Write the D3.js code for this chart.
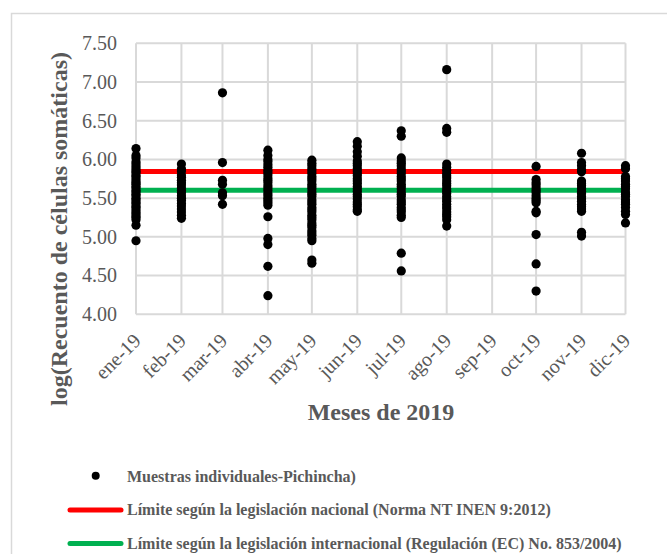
<!DOCTYPE html>
<html>
<head>
<meta charset="utf-8">
<script src="https://cdn.jsdelivr.net/npm/d3@7"></script>
<style>
  body { margin: 0; background: #fff; }
  svg text { font-family: "Liberation Serif", "Times New Roman", serif !important; }
</style>
</head>
<body>
<div id="chart"></div>
<script>
var width = 667,
    height = 554;

var monthLabels = ["ene-19", "feb-19", "mar-19", "abr-19", "may-19", "jun-19",
                   "jul-19", "ago-19", "sep-19", "oct-19", "nov-19", "dic-19"];

var ene = [6.14, 6.05, 6.02, 5.97, 5.94, 5.91, 5.88, 5.85, 5.83, 5.80, 5.78, 5.75, 5.72, 5.70, 5.68,
           5.65, 5.63, 5.60, 5.58, 5.55, 5.53, 5.50, 5.48, 5.45, 5.43, 5.40, 5.38, 5.35, 5.32,
           5.30, 5.27, 5.25, 5.22, 5.15, 4.95];
var feb = [5.94, 5.88, 5.85, 5.80, 5.77, 5.73, 5.70, 5.67, 5.63, 5.60, 5.57, 5.53, 5.50, 5.47,
           5.43, 5.40, 5.36, 5.32, 5.28, 5.24];
var mar = [6.86, 5.96, 5.73, 5.68, 5.57, 5.53, 5.42];
var abr = [6.12, 6.05, 6.00, 5.97, 5.93, 5.90, 5.86, 5.83, 5.80, 5.76, 5.73, 5.70, 5.66, 5.63,
           5.60, 5.56, 5.53, 5.50, 5.47, 5.44, 5.41, 5.26, 4.98, 4.90, 4.62, 4.24];
var may = [5.99, 5.95, 5.92, 5.88, 5.85, 5.82, 5.78, 5.75, 5.72, 5.68, 5.65, 5.62, 5.58, 5.55,
           5.52, 5.48, 5.45, 5.42, 5.38, 5.35, 5.32, 5.28, 5.25, 5.22, 5.18, 5.15, 5.12, 5.08,
           5.05, 5.02, 4.98, 4.95, 4.70, 4.66];
var jun = [6.23, 6.17, 6.10, 6.04, 5.98, 5.95, 5.92, 5.88, 5.85, 5.82, 5.79, 5.75, 5.72, 5.69,
           5.65, 5.62, 5.59, 5.55, 5.52, 5.49, 5.45, 5.42, 5.39, 5.35, 5.33];
var jul = [6.37, 6.30, 6.02, 5.98, 5.95, 5.92, 5.88, 5.85, 5.82, 5.78, 5.75, 5.72, 5.68, 5.65,
           5.62, 5.58, 5.55, 5.52, 5.48, 5.45, 5.42, 5.38, 5.35, 5.32, 5.28, 5.25, 4.79, 4.56];
var ago = [7.16, 6.40, 6.35, 5.94, 5.90, 5.86, 5.82, 5.79, 5.76, 5.72, 5.69, 5.66, 5.62, 5.59,
           5.56, 5.52, 5.49, 5.46, 5.42, 5.39, 5.36, 5.32, 5.29, 5.26, 5.22, 5.14];
var sep = [];
var oct = [5.91, 5.74, 5.70, 5.67, 5.63, 5.60, 5.57, 5.53, 5.50, 5.47, 5.44, 5.33, 5.31, 5.03,
           4.65, 4.30];
var nov = [6.08, 5.96, 5.92, 5.87, 5.84, 5.72, 5.69, 5.66, 5.62, 5.59, 5.56, 5.52, 5.49, 5.46,
           5.42, 5.39, 5.36, 5.33, 5.06, 5.01];
var dic = [5.92, 5.88, 5.78, 5.75, 5.72, 5.68, 5.65, 5.62, 5.58, 5.55, 5.52, 5.48, 5.45, 5.42,
           5.38, 5.33, 5.29, 5.18];

var samplesByMonth = [ene, feb, mar, abr, may, jun, jul, ago, sep, oct, nov, dic];

var yTicks = [4.00, 4.50, 5.00, 5.50, 6.00, 6.50, 7.00, 7.50];

var limitNacional = 5.845,      // log10(700000)
    limitInternacional = 5.602; // log10(400000)

var legendLabels = ["Muestras individuales-Pichincha)",
                    "Límite según la legislación nacional (Norma NT INEN 9:2012)",
                    "Límite según la legislación internacional (Regulación (EC) No. 853/2004)"];

var textColor = "#595959",
    gridColor = "#d9d9d9";

var months = monthLabels.map(function(d, i) { return new Date(2019, i, 1); });

var points = [];
samplesByMonth.forEach(function(vals, i) {
  vals.forEach(function(v) { points.push({date: months[i], value: v}); });
});

var x = d3.scaleTime()
    .domain([months[0], months[11]])
    .range([136, 625.5]);

var y = d3.scaleLinear()
    .domain([4, 7.5])
    .range([314.3, 43.3]);

var svg = d3.select("#chart").append("svg")
    .attr("width", width)
    .attr("height", height);

svg.append("rect")
    .attr("width", width)
    .attr("height", height)
    .attr("fill", "#fff");

// outer chart border
svg.append("rect")
    .attr("x", 11.5)
    .attr("y", 13.5)
    .attr("width", 700)
    .attr("height", 600)
    .attr("fill", "none")
    .attr("stroke", gridColor)
    .attr("stroke-width", 1.5);

var grid = svg.append("g");

grid.selectAll("line.h")
    .data(yTicks)
  .enter().append("line")
    .attr("class", "h")
    .attr("x1", x.range()[0])
    .attr("x2", x.range()[1])
    .attr("y1", function(d) { return y(d); })
    .attr("y2", function(d) { return y(d); })
    .attr("stroke", gridColor)
    .attr("stroke-width", 2);

grid.selectAll("line.v")
    .data(months)
  .enter().append("line")
    .attr("class", "v")
    .attr("x1", function(d) { return x(d); })
    .attr("x2", function(d) { return x(d); })
    .attr("y1", y(7.5))
    .attr("y2", y(4))
    .attr("stroke", gridColor)
    .attr("stroke-width", 2);

// y axis labels
var yAxis = svg.append("g")
    .attr("transform", "translate(" + x.range()[0] + ",0)")
    .attr("font-family", null)
    .call(d3.axisLeft(y).tickValues(yTicks).tickFormat(d3.format(".2f")).tickSize(0).tickPadding(19));
yAxis.attr("font-family", "Liberation Serif");
yAxis.select(".domain").remove();
yAxis.selectAll("text")
    .style("font-family", "'Liberation Serif', serif")
    .attr("font-size", 20)
    .attr("fill", textColor);

// x axis labels, rotated
svg.append("g").selectAll("text")
    .data(months)
  .enter().append("text")
    .attr("transform", function(d) { return "translate(" + (x(d) + 6) + ",342)rotate(-45)"; })
    .attr("text-anchor", "end")
    .style("font-family", "'Liberation Serif', serif")
    .attr("font-size", 20)
    .attr("fill", textColor)
    .text(function(d, i) { return monthLabels[i]; });

// limit lines
svg.append("line")
    .attr("x1", x.range()[0])
    .attr("x2", x.range()[1])
    .attr("y1", y(limitNacional))
    .attr("y2", y(limitNacional))
    .attr("stroke", "#ff0000")
    .attr("stroke-width", 5);

svg.append("line")
    .attr("x1", x.range()[0])
    .attr("x2", x.range()[1])
    .attr("y1", y(limitInternacional))
    .attr("y2", y(limitInternacional))
    .attr("stroke", "#00b050")
    .attr("stroke-width", 5);

svg.append("g").selectAll("circle")
    .data(points)
  .enter().append("circle")
    .attr("cx", function(d) { return x(d.date); })
    .attr("cy", function(d) { return y(d.value); })
    .attr("r", 4.6)
    .attr("fill", "#000");

// axis titles
svg.append("text")
    .attr("transform", "translate(67,229)rotate(-90)")
    .attr("text-anchor", "middle")
    .attr("font-size", 24)
    .attr("font-weight", "bold")
    .attr("fill", textColor)
    .text("log(Recuento de células somáticas)");

svg.append("text")
    .attr("x", 381)
    .attr("y", 420)
    .attr("text-anchor", "middle")
    .attr("font-size", 24)
    .attr("font-weight", "bold")
    .attr("fill", textColor)
    .text("Meses de 2019");

// legend
var legend = svg.append("g");

legend.append("circle")
    .attr("cx", 95.7)
    .attr("cy", 475.7)
    .attr("r", 4)
    .attr("fill", "#000");

legend.append("line")
    .attr("x1", 70).attr("x2", 121)
    .attr("y1", 510).attr("y2", 510)
    .attr("stroke", "#ff0000")
    .attr("stroke-width", 5)
    .attr("stroke-linecap", "round");

legend.append("line")
    .attr("x1", 70).attr("x2", 121)
    .attr("y1", 543.5).attr("y2", 543.5)
    .attr("stroke", "#00b050")
    .attr("stroke-width", 5)
    .attr("stroke-linecap", "round");

legend.selectAll("text")
    .data(legendLabels)
  .enter().append("text")
    .attr("x", 127)
    .attr("y", function(d, i) { return [481.5, 515, 549][i]; })
    .attr("font-size", 16)
    .attr("font-weight", "bold")
    .attr("fill", textColor)
    .text(function(d) { return d; });
</script>
</body>
</html>
